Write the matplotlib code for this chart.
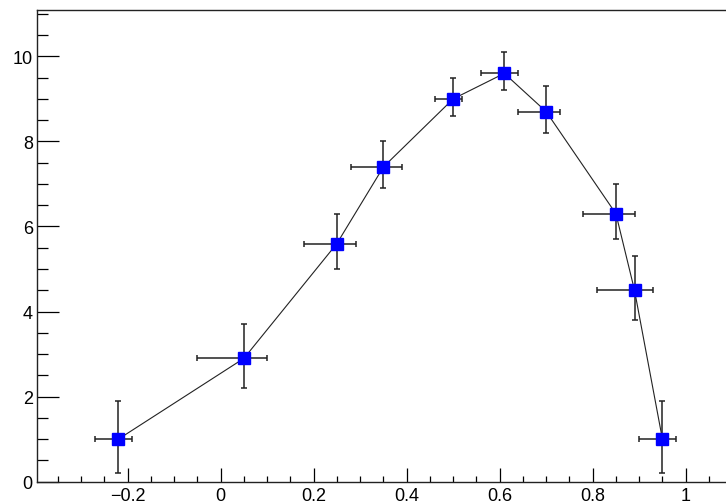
import matplotlib
matplotlib.use("Agg")
import matplotlib.pyplot as plt
from matplotlib.ticker import MultipleLocator

x = [-0.22, 0.05, 0.25, 0.35, 0.5, 0.61, 0.7, 0.85, 0.89, 0.95]
y = [1, 2.9, 5.6, 7.4, 9, 9.6, 8.7, 6.3, 4.5, 1]
exl = [0.05, 0.1, 0.07, 0.07, 0.04, 0.05, 0.06, 0.07, 0.08, 0.05]
exh = [0.03, 0.05, 0.04, 0.04, 0.02, 0.03, 0.03, 0.04, 0.04, 0.03]
eyl = [0.8, 0.7, 0.6, 0.5, 0.4, 0.4, 0.5, 0.6, 0.7, 0.8]
eyh = [0.9, 0.8, 0.7, 0.6, 0.5, 0.5, 0.6, 0.7, 0.8, 0.9]

plt.rcParams["font.family"] = ["Liberation Sans", "DejaVu Sans"]

fig = plt.figure(figsize=(7.26, 5.02), dpi=100)
# axes runs a bit past the right edge, like the cropped original
ax = fig.add_axes([37 / 726, 19.3 / 502, 697.5 / 726, 471.7 / 502])

ax.plot(x, y, color="#222222", lw=0.8, zorder=2)
ax.errorbar(x, y, xerr=[exl, exh], yerr=[eyl, eyh], fmt="none",
            ecolor="#222222", elinewidth=1.1, capsize=2.2, capthick=1.1, zorder=3)
ax.plot(x, y, ls="none", marker="s", ms=8, color="#0000ff", mec="#0000ff", zorder=4)

ax.set_xlim(-0.395, 1.105)
ax.set_ylim(0, 11.09)

ax.xaxis.set_major_locator(MultipleLocator(0.2))
ax.xaxis.set_minor_locator(MultipleLocator(0.05))
ax.yaxis.set_major_locator(MultipleLocator(2))
ax.yaxis.set_minor_locator(MultipleLocator(0.5))

ax.tick_params(axis="x", which="major", direction="in", length=10, width=0.9,
               labelsize=13, pad=4, top=False)
ax.tick_params(axis="x", which="minor", direction="in", length=4.5, width=0.9, top=False)
ax.tick_params(axis="y", which="major", direction="in", length=16, width=0.9,
               labelsize=13, pad=3, right=False)
ax.tick_params(axis="y", which="minor", direction="in", length=8, width=0.9, right=False)

for s in ax.spines.values():
    s.set_linewidth(1.0)
    s.set_color("#222222")

ax.set_xticks([-0.2, 0, 0.2, 0.4, 0.6, 0.8, 1])
ax.set_xticklabels(["\u22120.2", "0", "0.2", "0.4", "0.6", "0.8", "1"])
ax.set_yticks([0, 2, 4, 6, 8, 10])
ax.set_yticklabels(["0", "2", "4", "6", "8", "10"])

fig.savefig("out.png", dpi=100)
